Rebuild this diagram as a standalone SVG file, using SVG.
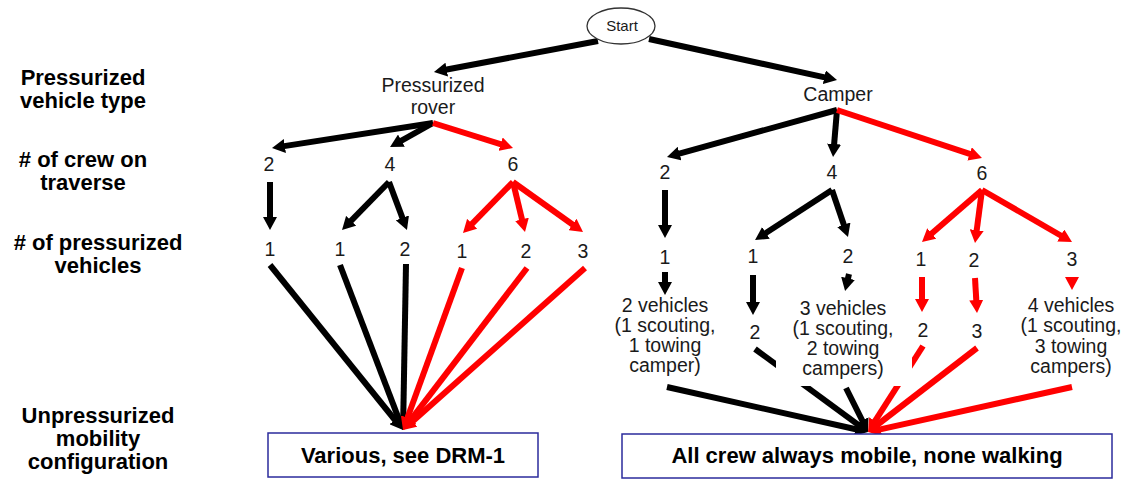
<svg xmlns="http://www.w3.org/2000/svg" width="1127" height="479" viewBox="0 0 1127 479">
<defs>
<style>
.t{font-family:"Liberation Sans",Arial,sans-serif;font-size:19.5px;fill:#1a1a1a;text-anchor:middle}
.lb{font-family:"Liberation Sans",Arial,sans-serif;font-size:22px;font-weight:bold;fill:#000;text-anchor:middle}
.bx{font-family:"Liberation Sans",Arial,sans-serif;font-size:22px;font-weight:bold;fill:#000;text-anchor:middle}
.k{stroke:#000;stroke-width:6;fill:none;marker-end:url(#ak)}
.r{stroke:#ff0000;stroke-width:6;fill:none;marker-end:url(#ar)}
.box{fill:#fff;stroke:#2b2b9c;stroke-width:1.5}
</style>
<marker id="ak" markerUnits="userSpaceOnUse" markerWidth="14" markerHeight="14" refX="4" refY="7" orient="auto"><path d="M0,0 L13,7 L0,14 z" fill="#000"/></marker>
<marker id="ar" markerUnits="userSpaceOnUse" markerWidth="14" markerHeight="14" refX="4" refY="7" orient="auto"><path d="M0,0 L13,7 L0,14 z" fill="#ff0000"/></marker>
</defs>
<rect width="1127" height="479" fill="#fff"/>

<g id="labels">
<text class="lb" x="83" y="85">Pressurized</text>
<text class="lb" x="83" y="108">vehicle type</text>
<text class="lb" x="83" y="167"># of crew on</text>
<text class="lb" x="83" y="190">traverse</text>
<text class="lb" x="98" y="250"># of pressurized</text>
<text class="lb" x="98" y="273">vehicles</text>
<text class="lb" x="98" y="423">Unpressurized</text>
<text class="lb" x="98" y="446">mobility</text>
<text class="lb" x="98" y="469">configuration</text>
</g>

<g id="connectors">
<line class="k" x1="598" y1="41" x2="442.8" y2="70.3"/>
<line class="k" x1="649" y1="39" x2="828.2" y2="78.1"/>
<line class="k" x1="433" y1="123" x2="280.9" y2="146.6"/>
<line class="k" x1="433" y1="123" x2="397.9" y2="142.6"/>
<line class="r" x1="433" y1="123" x2="504.4" y2="145.3"/>
<line class="k" x1="270" y1="182" x2="270" y2="221"/>
<line class="k" x1="389" y1="182" x2="348.3" y2="223.6"/>
<line class="k" x1="389" y1="182" x2="403.8" y2="221.6"/>
<line class="r" x1="513" y1="182" x2="469.3" y2="226.6"/>
<line class="r" x1="513" y1="182" x2="522.9" y2="223.2"/>
<line class="r" x1="513" y1="182" x2="575.7" y2="226.8"/>
<line class="k" x1="270" y1="265" x2="397.4" y2="423"/>
<line class="k" x1="340" y1="265" x2="399.8" y2="421.6"/>
<line class="k" x1="406" y1="264" x2="403.2" y2="421"/>
<line class="r" x1="462" y1="268" x2="406.1" y2="421.5"/>
<line class="r" x1="527" y1="268" x2="408.5" y2="422.9"/>
<line class="r" x1="585" y1="268" x2="409.7" y2="424"/>
<line class="k" x1="837" y1="110" x2="675.7" y2="154.6"/>
<line class="k" x1="837" y1="110" x2="833.8" y2="148"/>
<line class="r" x1="837" y1="110" x2="973.4" y2="155.2"/>
<line class="k" x1="665" y1="190" x2="665" y2="229"/>
<line class="k" x1="832" y1="190" x2="762.6" y2="235.1"/>
<line class="k" x1="832" y1="190" x2="845.1" y2="228.5"/>
<line class="r" x1="982" y1="190" x2="928.8" y2="236.1"/>
<line class="r" x1="982" y1="190" x2="976.2" y2="234.1"/>
<line class="r" x1="982" y1="190" x2="1064.2" y2="237.5"/>
<line class="k" x1="665" y1="272" x2="665" y2="286"/>
<line class="k" x1="753" y1="275" x2="753" y2="306"/>
<line class="k" x1="849" y1="274" x2="847.1" y2="282.2"/>
<line class="r" x1="922" y1="277" x2="922" y2="303"/>
<line class="r" x1="975" y1="278" x2="976.5" y2="304"/>
<line class="r" x1="1072" y1="279" x2="1072" y2="281"/>
<line class="k" x1="667" y1="387" x2="859.2" y2="430"/>
<line class="k" x1="755" y1="349" x2="860.7" y2="426.7"/>
<line class="k" x1="846" y1="388" x2="864" y2="424"/>
<line class="r" x1="923" y1="346" x2="872.9" y2="424.4"/>
<line class="r" x1="977" y1="348" x2="875.1" y2="426.5"/>
<line class="r" x1="1072" y1="387" x2="876.8" y2="430.1"/>
</g>

<g id="start">
<ellipse cx="621" cy="26" rx="34" ry="18" fill="#fff" stroke="#333" stroke-width="1.3"/>
<text class="t" x="622" y="31" style="font-size:15px">Start</text>
</g>
<g id="rover"><text class="t" x="433" y="92">Pressurized</text><text class="t" x="433" y="114">rover</text></g>
<g id="camper"><text class="t" x="838" y="101">Camper</text></g>

<g id="r-crew2"><text class="t" x="269" y="171">2</text></g>
<g id="r-crew4"><text class="t" x="390" y="171">4</text></g>
<g id="r-crew6"><text class="t" x="513" y="171">6</text></g>
<g id="r2-v1"><text class="t" x="270" y="256">1</text></g>
<g id="r4-v1"><text class="t" x="340" y="256">1</text></g>
<g id="r4-v2"><text class="t" x="405" y="256">2</text></g>
<g id="r6-v1"><text class="t" x="462" y="258">1</text></g>
<g id="r6-v2"><text class="t" x="526" y="258">2</text></g>
<g id="r6-v3"><text class="t" x="583" y="258">3</text></g>

<g id="c-crew2"><text class="t" x="665" y="179">2</text></g>
<g id="c-crew4"><text class="t" x="832" y="179">4</text></g>
<g id="c-crew6"><text class="t" x="982" y="180">6</text></g>
<g id="c2-v1"><text class="t" x="665" y="264">1</text></g>
<g id="c4-v1"><text class="t" x="753" y="263">1</text></g>
<g id="c4-v2"><text class="t" x="848" y="263">2</text></g>
<g id="c6-v1"><text class="t" x="921" y="266">1</text></g>
<g id="c6-v2"><text class="t" x="974" y="267">2</text></g>
<g id="c6-v3"><text class="t" x="1072" y="266">3</text></g>
<g id="c4-v1-2"><text class="t" x="755" y="339">2</text></g>
<g id="c6-v1-2"><text class="t" x="923" y="337">2</text></g>
<g id="c6-v2-3"><text class="t" x="977" y="338">3</text></g>

<g id="c2-veh">
<text class="t" x="665" y="312">2 vehicles</text>
<text class="t" x="665" y="332">(1 scouting,</text>
<text class="t" x="665" y="352">1 towing</text>
<text class="t" x="665" y="372">camper)</text>
</g>
<g id="c4-veh">
<rect x="776" y="294" width="136" height="92" fill="#fff"/>
<text class="t" x="843" y="315">3 vehicles</text>
<text class="t" x="843" y="335">(1 scouting,</text>
<text class="t" x="843" y="355">2 towing</text>
<text class="t" x="843" y="375">campers)</text>
</g>
<g id="c6-veh">
<text class="t" x="1071" y="312">4 vehicles</text>
<text class="t" x="1071" y="332">(1 scouting,</text>
<text class="t" x="1071" y="353">3 towing</text>
<text class="t" x="1071" y="373">campers)</text>
</g>

<g id="box-left">
<rect class="box" x="268" y="433" width="270" height="44"/>
<text class="bx" x="403" y="463">Various, see DRM-1</text>
</g>
<g id="box-right">
<rect class="box" x="622" y="434" width="490" height="44"/>
<text class="bx" x="867" y="463">All crew always mobile, none walking</text>
</g>
</svg>
